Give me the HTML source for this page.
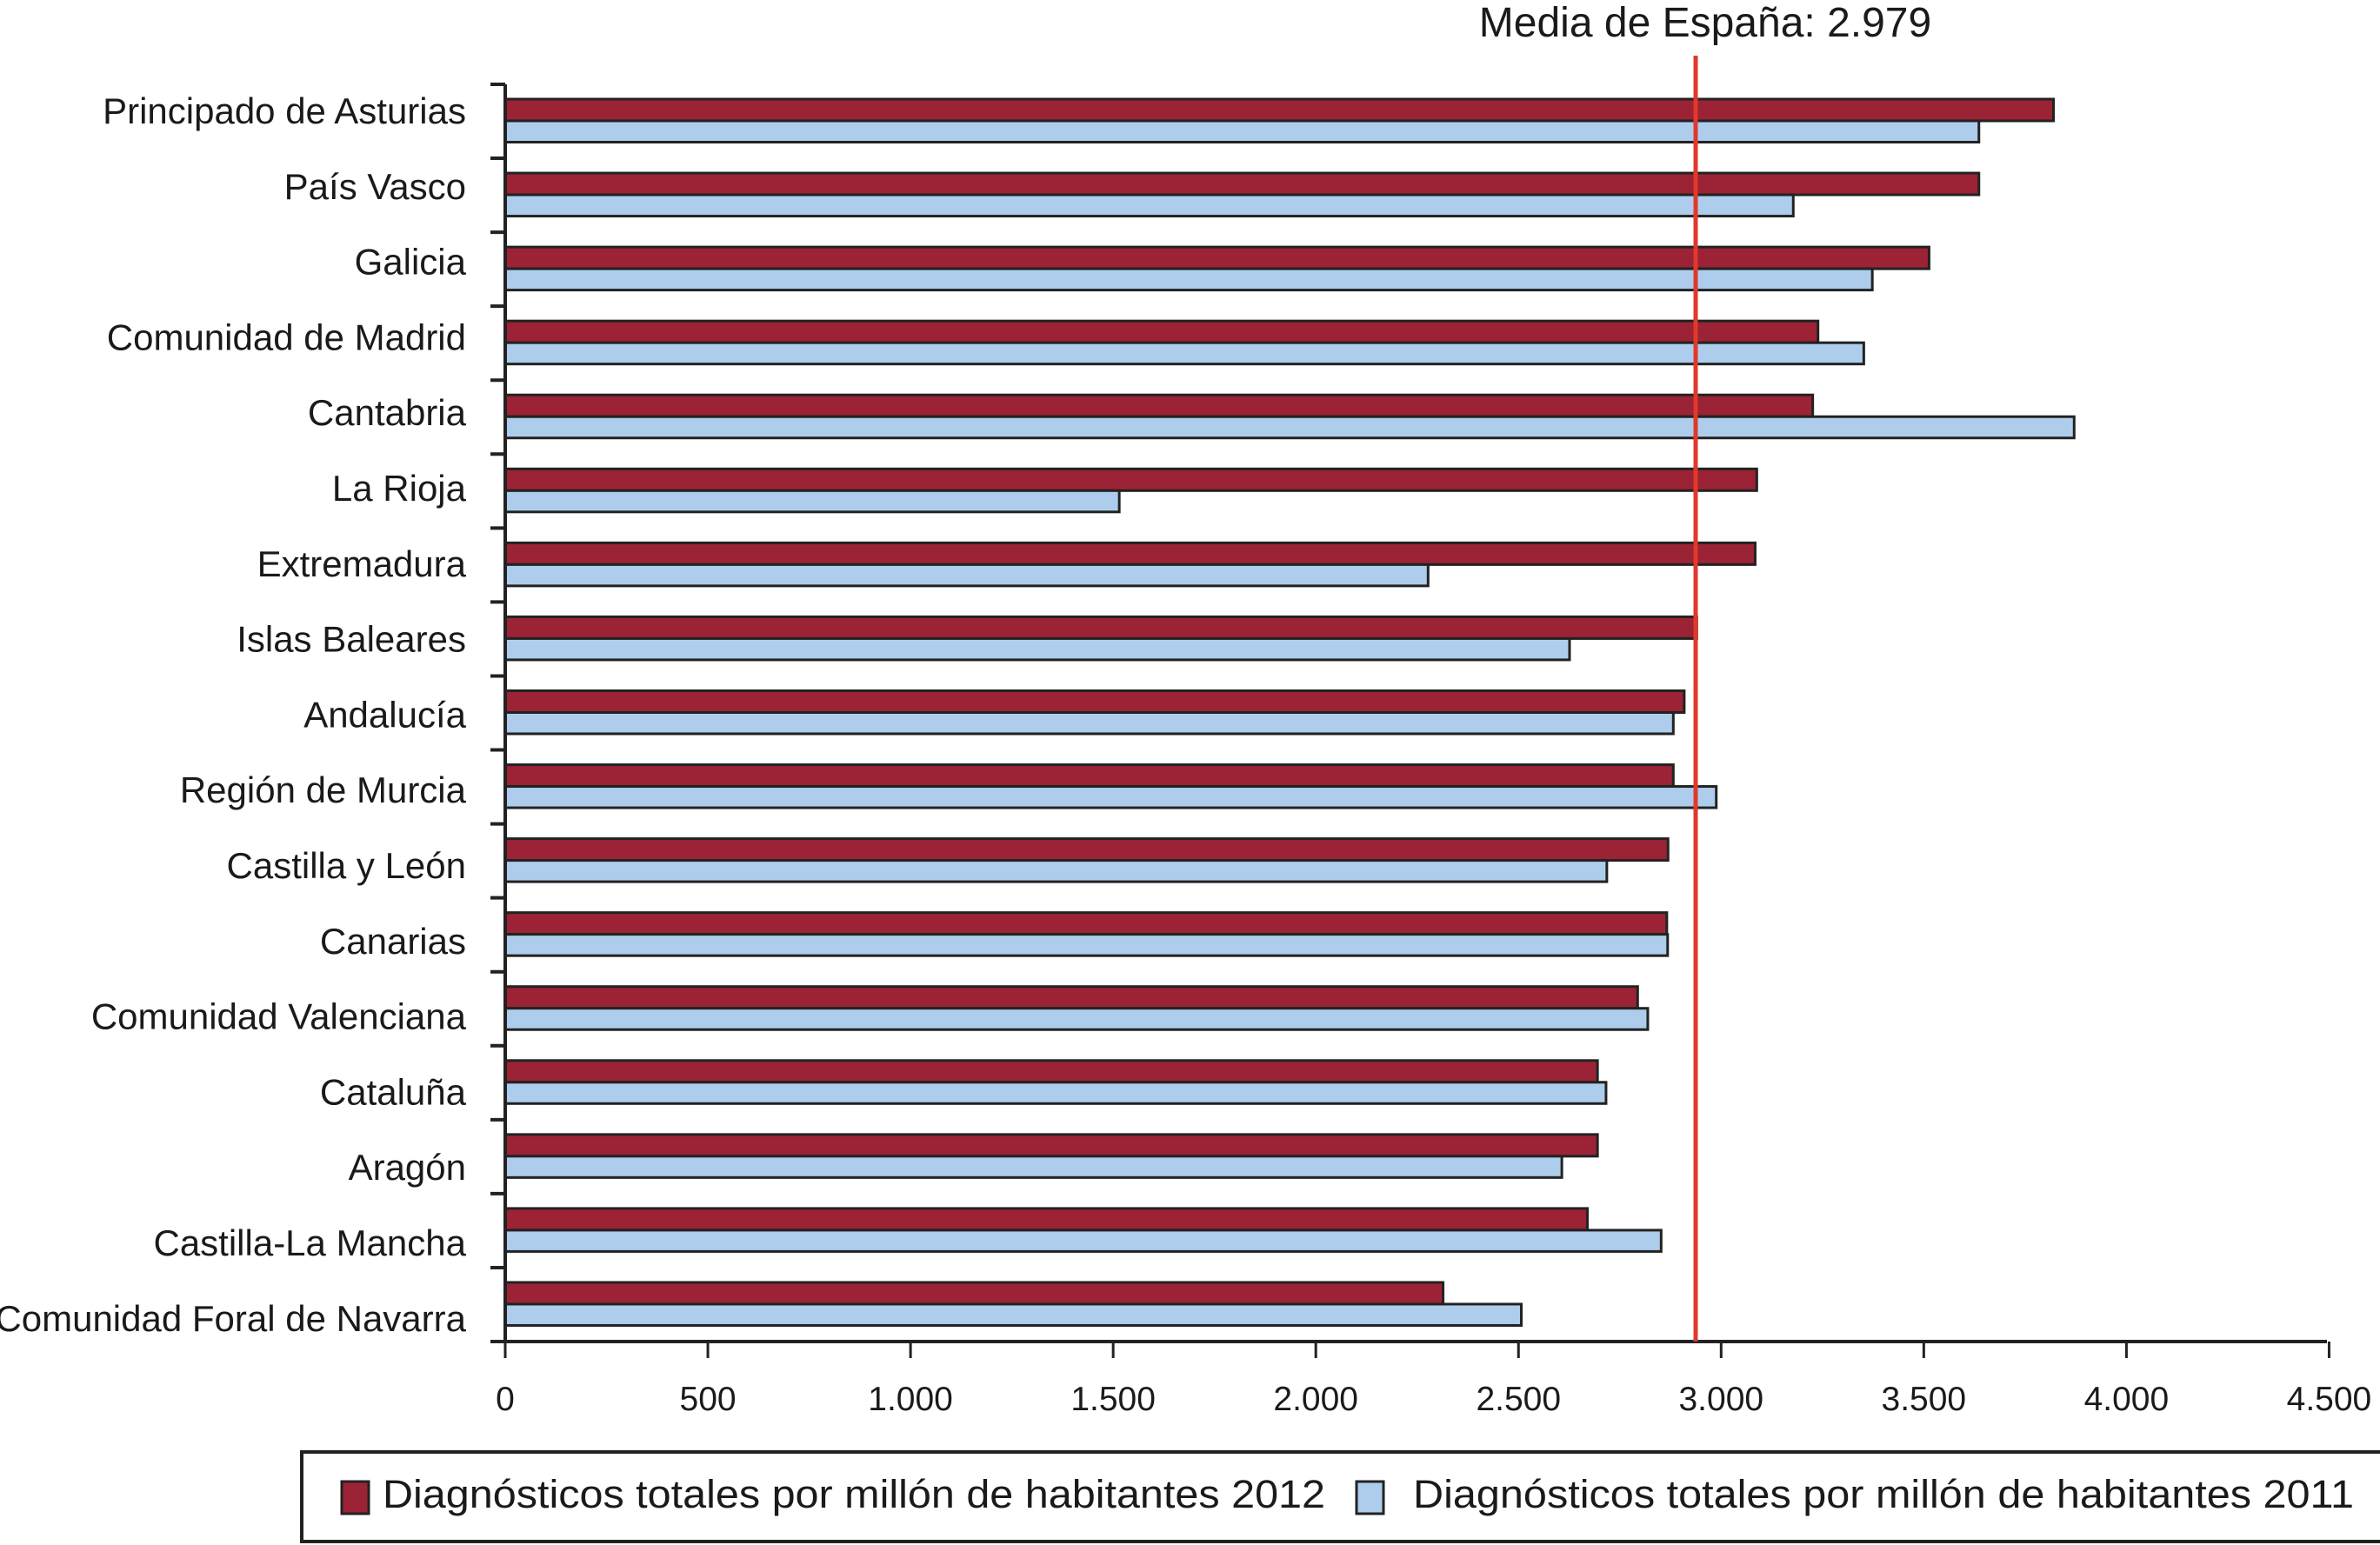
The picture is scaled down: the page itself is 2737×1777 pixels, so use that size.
<!DOCTYPE html>
<html><head><meta charset="utf-8"><style>html,body{margin:0;padding:0;background:#fff}svg{display:block}</style></head>
<body>
<svg width="2737" height="1777" viewBox="0 0 2737 1777" xmlns="http://www.w3.org/2000/svg" font-family="Liberation Sans, Arial, sans-serif" fill="#1a1a1a">
<g id="bars" stroke="#222" stroke-width="3"></g>
<script>
(function(){
var d=[["Principado de Asturias",3820,3636],["País Vasco",3636,3178],["Galicia",3513,3373],["Comunidad de Madrid",3239,3352],["Cantabria",3226,3871],["La Rioja",3088,1515],["Extremadura",3084,2277],["Islas Baleares",2940,2626],["Andalucía",2909,2882],["Región de Murcia",2882,2988],["Castilla y León",2869,2718],["Canarias",2866,2868],["Comunidad Valenciana",2794,2819],["Cataluña",2695,2716],["Aragón",2695,2607],["Castilla-La Mancha",2670,2852],["Comunidad Foral de Navarra",2314,2507]];
var ns="http://www.w3.org/2000/svg",g=document.getElementById("bars"),svg=g.parentNode;
function el(t,a,p){var e=document.createElementNS(ns,t);for(var k in a)e.setAttribute(k,a[k]);(p||svg).appendChild(e);return e;}
var x0=581,s=0.4661,pitch=85.06,top=97;
d.forEach(function(r,i){
 var y=top+17+i*pitch;
 el("rect",{x:x0,y:y,width:r[1]*s,height:25,fill:"#9b2335"},g);
 el("rect",{x:x0,y:y+25,width:r[2]*s,height:24.5,fill:"#aecdec"},g);
 var t=el("text",{x:536,y:142+i*86.8,"font-size":"42","text-anchor":"end"});t.textContent=r[0];
 el("line",{x1:564,y1:top+i*pitch,x2:581,y2:top+i*pitch,stroke:"#222","stroke-width":"4"});
});
el("line",{x1:581,y1:top,x2:581,y2:1545,stroke:"#222","stroke-width":"4"});
el("line",{x1:564,y1:1543,x2:2676,y2:1543,stroke:"#222","stroke-width":"4"});
for(var v=0;v<=4500;v+=500){var x=x0+v*s;
 el("line",{x1:x,y1:1543,x2:x,y2:1562,stroke:"#222","stroke-width":"3"});
 var t=el("text",{x:x,y:1622,"font-size":"39","text-anchor":"middle"});t.textContent=v==0?"0":(Math.floor(v/1000)>0?Math.floor(v/1000)+"."+String(v%1000).padStart(3,"0"):String(v));}
el("line",{x1:1950,y1:64,x2:1950,y2:1543,stroke:"#e0392b","stroke-width":"5"});
})();
</script>
<text x="1961" y="42" font-size="48" text-anchor="middle">Media de España: 2.979</text>
<rect x="347" y="1670" width="2400" height="103" fill="none" stroke="#222" stroke-width="4"/>
<rect x="393" y="1704" width="31" height="37" fill="#9b2335" stroke="#222" stroke-width="3"/>
<text x="440" y="1734" font-size="45" textLength="1084" lengthAdjust="spacingAndGlyphs">Diagnósticos totales por millón de habitantes 2012</text>
<rect x="1560" y="1704" width="31" height="37" fill="#aecdec" stroke="#222" stroke-width="3"/>
<text x="1625" y="1734" font-size="45" textLength="1082" lengthAdjust="spacingAndGlyphs">Diagnósticos totales por millón de habitantes 2011</text>
</svg>
</body></html>
